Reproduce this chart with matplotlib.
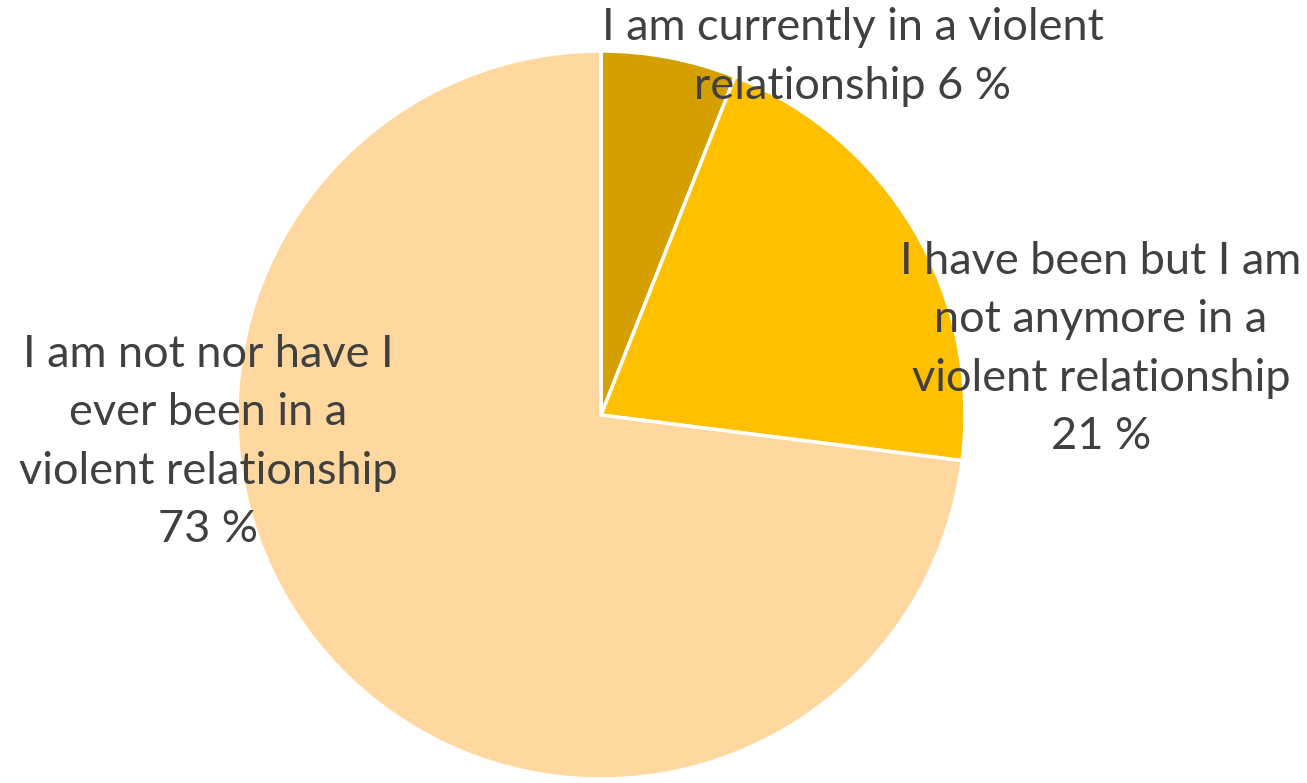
import matplotlib
matplotlib.use("Agg")
import matplotlib.pyplot as plt

# Survey answers and shares (percent)
categories = [
    "I am currently in a violent\nrelationship",
    "I have been but I am\nnot anymore in a\nviolent relationship",
    "I am not nor have I\never been in a\nviolent relationship",
]
values = [6, 21, 73]
colors = ["#D4A000", "#FFC000", "#FFD8A0"]

W, H = 1307, 783
fig = plt.figure(figsize=(W / 100, H / 100), dpi=100)
ax = fig.add_axes([0, 0, 1, 1])

center = (601, H - 415)
radius = 364
ax.pie(values, colors=colors, startangle=90, counterclock=False,
       center=center, radius=radius, frame=True,
       wedgeprops=dict(edgecolor="white", linewidth=2.5))
ax.set_xlim(0, W)
ax.set_ylim(0, H)
ax.set_aspect("equal")
ax.axis("off")

font = dict(family="Lato", fontsize=32.5, color="#404040",
            ha="center", va="center", linespacing=1.52)

labels = [
    f"{categories[0]} {values[0]} %",
    f"{categories[1]}\n{values[1]} %",
    f"{categories[2]}\n{values[2]} %",
]
positions = [(853, H - 57), (1101, H - 349), (208, H - 442)]
for text, (x, y) in zip(labels, positions):
    ax.text(x, y, text, **font)

fig.savefig("out.png", dpi=100)
